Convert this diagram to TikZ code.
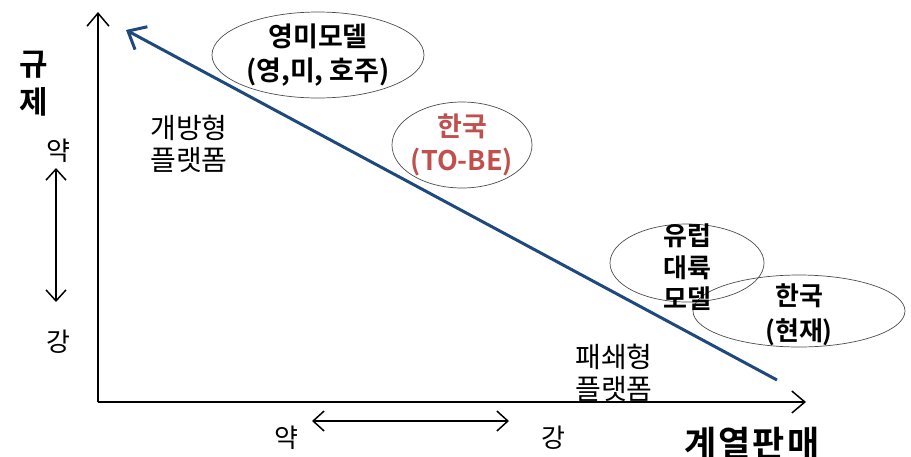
\documentclass[tikz,border=0pt]{standalone}
\usepackage{fontspec}
\setmainfont{Noto Sans CJK KR}[BoldFont={Noto Sans CJK KR Bold}]
\usetikzlibrary{arrows.meta,shapes.geometric}
\definecolor{lineblue}{RGB}{31,73,125}
\definecolor{tobered}{RGB}{192,80,77}
\begin{document}
\begin{tikzpicture}[x=1pt,y=-1pt,
  axisline/.style={line width=1.5pt,-{Straight Barb[length=13pt,width=22pt,line width=1.5pt]}},
  dblarrow/.style={line width=1.5pt,{Straight Barb[length=11pt,width=20pt,line width=1.5pt]}-{Straight Barb[length=11pt,width=20pt,line width=1.5pt]}},
  trend/.style={line width=3pt,color=lineblue,-{Straight Barb[length=15pt,width=26pt,line width=3pt]}},
  oval/.style={draw=black!70,line width=0.7pt,ellipse,inner sep=0pt},
  boldlbl/.style={align=center,font=\bfseries\fontsize{27}{34}\selectfont,inner sep=0pt},
  plainlbl/.style={align=center,font=\fontsize{28}{32}\selectfont,inner sep=0pt},
  smalllbl/.style={font=\fontsize{26}{28}\selectfont,inner sep=0pt}]
\useasboundingbox (0,0) rectangle (911,456);
% axes
\coordinate (origin) at (98,402);
\coordinate (ytop) at (98,12);
\coordinate (xend) at (806,402);
\draw[axisline] (origin) -- (ytop);
\draw[axisline] (origin) -- (xend);
% trend line
\coordinate (tstart) at (777,380);
\coordinate (tend) at (126,30);
\draw[trend] (tstart) -- (tend);
% ellipses
\node[oval,minimum width=212pt,minimum height=86pt] (e1) at (318,55) {};
\node[oval,minimum width=140pt,minimum height=86pt] (e2) at (462,145) {};
\node[oval,minimum width=154pt,minimum height=78pt] (e3) at (687,263) {};
\node[oval,minimum width=212pt,minimum height=72pt] (e4) at (799,311) {};
% ellipse texts
\node[boldlbl] (t1) at (e1.center) {영미모델\\(영,미, 호주)};
\node[boldlbl,text=tobered] (t2) at (e2.center) {한국\\(TO-BE)};
\node[boldlbl,font=\bfseries\fontsize{26}{31.5}\selectfont] (t3) at (687,267.5) {유럽\\대륙\\모델};
\node[boldlbl,font=\bfseries\fontsize{26}{35}\selectfont] (t4) at (799,314.5) {한국\\(현재)};
% platform labels
\node[plainlbl] (open) at (189,144) {개방형\\플랫폼};
\node[plainlbl] (closed) at (614,373) {패쇄형\\플랫폼};
% y-axis label
\node[font=\bfseries\fontsize{31}{38}\selectfont,inner sep=0pt,align=center] (ylab) at (34,84) {규\\제};
% vertical scale
\node[smalllbl] (yweak) at (58,151) {약};
\node[smalllbl] (ystrong) at (58,342) {강};
\coordinate (ya) at (56,168);
\coordinate (yb) at (56,302);
\draw[dblarrow] (ya) -- (yb);
% horizontal scale
\node[smalllbl] (xweak) at (286,438) {약};
\node[smalllbl] (xstrong) at (553,438) {강};
\coordinate (xa) at (312,421);
\coordinate (xb) at (509,421);
\draw[dblarrow] (xa) -- (xb);
% x-axis label
\node[font=\bfseries\fontsize{35}{36}\selectfont,inner sep=0pt,anchor=base] (xlab) at (752,456) {계\hspace{2pt}열\hspace{2pt}판\hspace{2pt}매};
\end{tikzpicture}
\end{document}
